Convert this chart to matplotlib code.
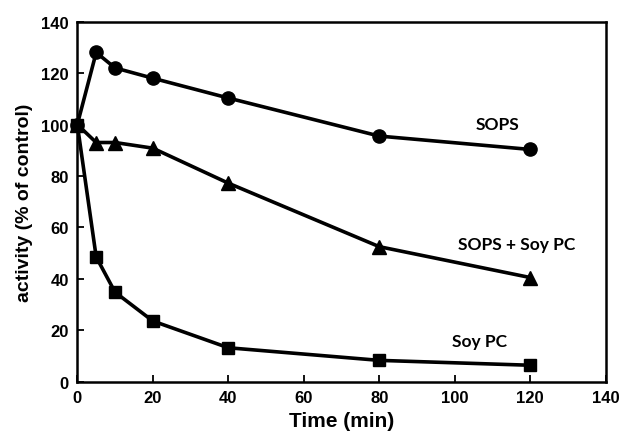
import matplotlib
matplotlib.use('Agg')
import matplotlib.pyplot as plt

# time points (min)
time = [0, 5, 10, 20, 40, 80, 120]

# activity (% of control)
sops = [100, 128, 122, 118, 110.3, 95.5, 90.3]
sops_soypc = [100, 93, 93, 90.8, 77.2, 52.5, 40.5]
soypc = [100, 48.5, 34.8, 23.6, 13.2, 8.3, 6.4]

plt.rcParams['font.family'] = 'Liberation Sans'
plt.rcParams['font.weight'] = 'bold'

fig = plt.figure(figsize=(6.2, 4.35), dpi=100)
ax = fig.add_axes([0.1247, 0.1202, 0.8523, 0.8278])

ax.plot(time, sops, 'k-', marker='o', markersize=9.5, linewidth=2.6, clip_on=False)
ax.plot(time, sops_soypc, 'k-', marker='^', markersize=10, linewidth=2.6, clip_on=False)
ax.plot(time, soypc, 'k-', marker='s', markersize=9, linewidth=2.6, clip_on=False)

ax.set_xlim(0, 140)
ax.set_ylim(0, 140)
ax.set_xticks(range(0, 141, 20))
ax.set_yticks(range(0, 141, 20))
ax.tick_params(direction='in', length=5, width=1.3, labelsize=12, pad=6)
for lab in ax.get_xticklabels() + ax.get_yticklabels():
    lab.set_fontweight('bold')
for s in ax.spines.values():
    s.set_linewidth(1.8)

ax.set_xlabel("Time (min)", fontsize=15, fontweight='bold', labelpad=4)
ax.set_ylabel("activity (% of control)", fontsize=14, fontweight='bold', labelpad=6)

lbl = dict(fontfamily='Lato', fontweight='bold', fontsize=12.5, ha='center', va='center')
ax.text(111.4, 100.2, "SOPS", **lbl)
ax.text(116.4, 53.5, "SOPS + Soy PC", **lbl)
ax.text(106.6, 15.9, "Soy PC", **lbl)

fig.savefig("out.png", dpi=100)
